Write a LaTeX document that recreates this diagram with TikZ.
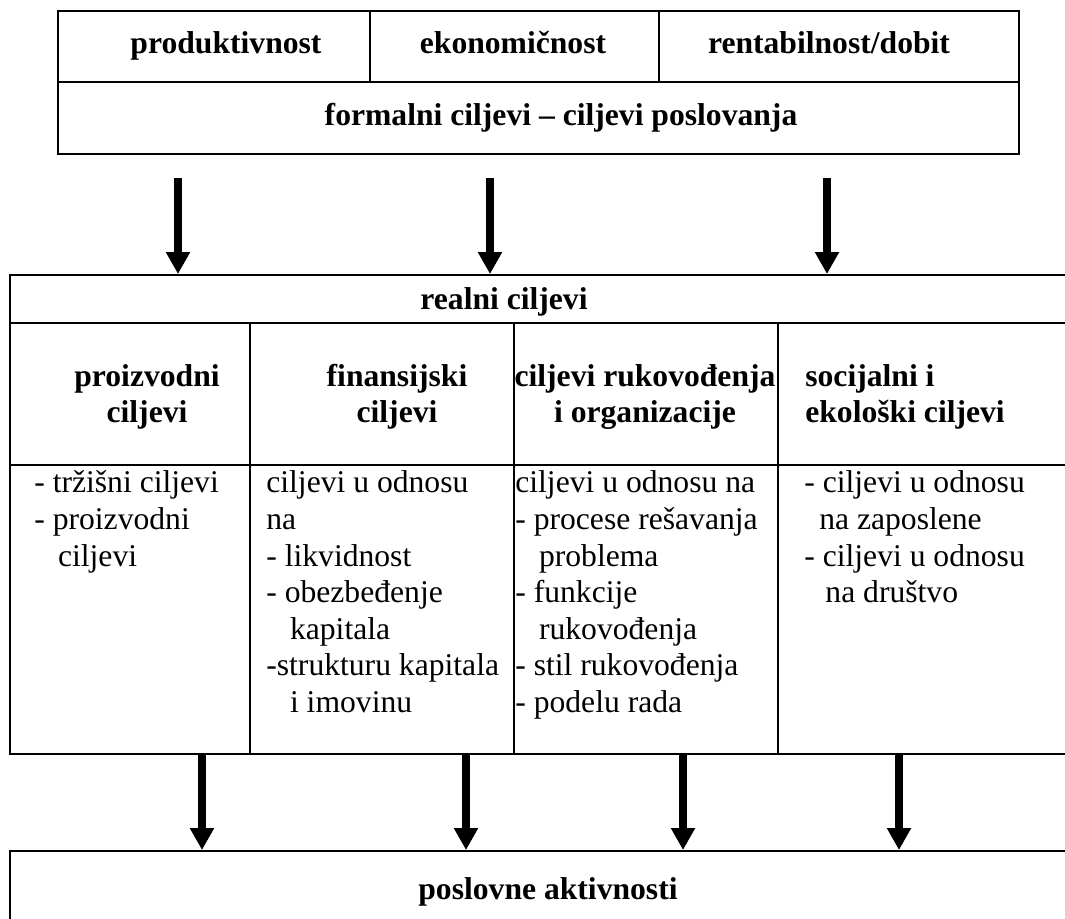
\documentclass[tikz,border=0pt]{standalone}
\usepackage{fontspec}
\setmainfont{Liberation Serif}
\usetikzlibrary{arrows.meta, fit}

\begin{document}
\begin{tikzpicture}[x=0.02cm, y=-0.02cm,
  cell/.style={draw, line width=1.1pt, inner sep=0pt},
  head/.style={font=\fontsize{18}{20}\selectfont\bfseries, inner sep=0pt, align=center, anchor=base},
  item/.style={font=\fontsize{18}{20.8}\selectfont, inner sep=0pt, align=left, anchor=north west},
  flow/.style={line width=4pt, -{Triangle[length=12.5pt, width=13pt]}},
]
\useasboundingbox (0,0) rectangle (1065,919);
\clip (0,0) rectangle (1065,919);

% formalni ciljevi
\node[cell, fit={(58,11) (370,82)}] (prod) {};
\node[cell, fit={(370,11) (659,82)}] (ekon) {};
\node[cell, fit={(659,11) (1019,82)}] (rent) {};
\node[cell, fit={(58,82) (1019,154)}] (formal) {};
\node[head] (prodT) at (226,54) {produktivnost};
\node[head] (ekonT) at (513,54) {ekonomičnost};
\node[head] (rentT) at (829,54) {rentabilnost/dobit};
\node[head] (formalT) at (561,126) {formalni ciljevi – ciljevi poslovanja};

% realni ciljevi
\node[cell, fit={(10,275) (1100,323)}] (real) {};
\node[head] (realT) at (504,309) {realni ciljevi};
\node[cell, fit={(10,323) (250,465)}] (h1) {};
\node[cell, fit={(250,323) (514,465)}] (h2) {};
\node[cell, fit={(514,323) (778,465)}] (h3) {};
\node[cell, fit={(778,323) (1100,465)}] (h4) {};
\node[head, anchor=north] (h1T) at (147,362) {\strut proizvodni\\ciljevi};
\node[head, anchor=north] (h2T) at (397,362) {\strut finansijski\\ciljevi};
\node[head, anchor=north] (h3T) at (645,362) {\strut ciljevi rukovođenja\\i organizacije};
\node[head, align=left, anchor=north west] (h4T) at (805,362) {\strut socijalni i\\ekološki ciljevi};
\node[cell, fit={(10,465) (250,754)}] (b1) {};
\node[cell, fit={(250,465) (514,754)}] (b2) {};
\node[cell, fit={(514,465) (778,754)}] (b3) {};
\node[cell, fit={(778,465) (1100,754)}] (b4) {};
\node[item] (b1T) at (34,467) {\strut - tržišni ciljevi\\- proizvodni\\\hspace*{13.5pt}ciljevi};
\node[item] (b2T) at (266,467) {\strut ciljevi u odnosu\\na\\- likvidnost\\- obezbeđenje\\\hspace*{13.5pt}kapitala\\-strukturu kapitala\\\hspace*{13.5pt}i imovinu};
\node[item] (b3T) at (515,467) {\strut ciljevi u odnosu na\\- procese rešavanja\\\hspace*{13.5pt}problema\\- funkcije\\\hspace*{13.5pt}rukovođenja\\- stil rukovođenja\\- podelu rada};
\node[item] (b4T) at (804,467) {\strut - ciljevi u odnosu\\\hspace*{8.5pt}na zaposlene\\- ciljevi u odnosu\\\hspace*{12pt}na društvo};

% poslovne aktivnosti
\node[cell, fit={(10,851) (1100,960)}] (posl) {};
\node[head] (poslT) at (548,899) {poslovne aktivnosti};

% strelice
\coordinate (t1) at (178,178);
\coordinate (t2) at (490,178);
\coordinate (t3) at (827,178);
\foreach \t in {t1,t2,t3}
  \draw[flow] (\t) -- (\t |- real.north);
\coordinate (s1) at (202,755);
\coordinate (s2) at (466,755);
\coordinate (s3) at (683,755);
\coordinate (s4) at (899,755);
\foreach \s in {s1,s2,s3,s4}
  \draw[flow] (\s) -- (\s |- posl.north);
\end{tikzpicture}
\end{document}
